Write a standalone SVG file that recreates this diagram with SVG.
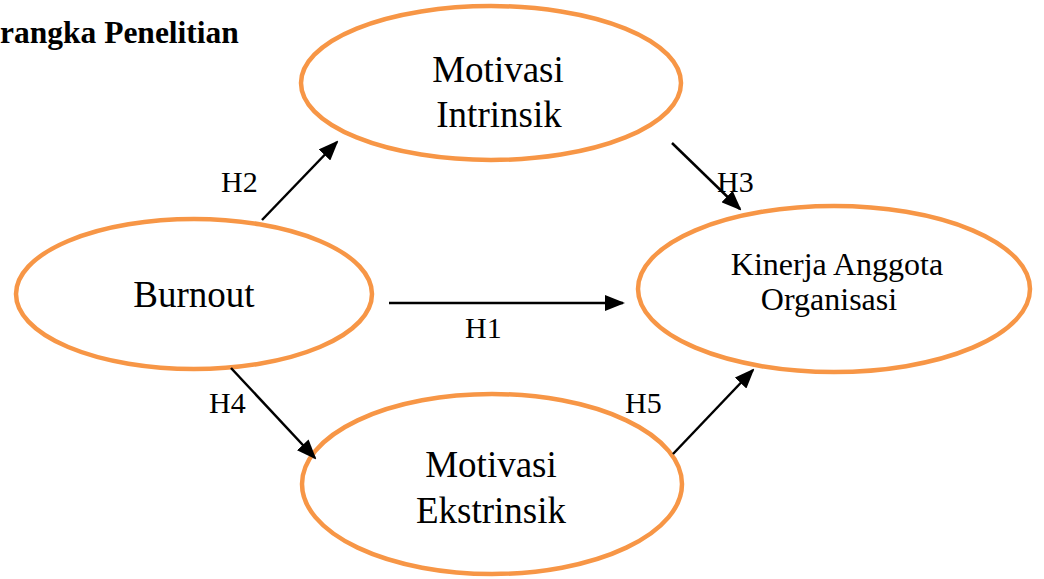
<svg xmlns="http://www.w3.org/2000/svg" width="1044" height="579" viewBox="0 0 1044 579">
<style>
.node{fill:#fff;stroke:#F79646;stroke-width:4.5}
.t{font-family:"Liberation Serif","Times New Roman",serif;fill:#000;text-anchor:middle}
.big{font-size:37px}
.mid{font-size:32px}
.lbl{font-family:"Liberation Serif","Times New Roman",serif;font-size:30px;fill:#000}
.title{font-family:"Liberation Serif","Times New Roman",serif;font-size:31.5px;font-weight:bold;fill:#000}
.edge{stroke:#000;stroke-width:2.5;fill:none;marker-end:url(#ah)}
</style>
<defs>
<marker id="ah" markerUnits="userSpaceOnUse" markerWidth="20" markerHeight="16" viewBox="0 0 20 16" refX="18" refY="8" orient="auto">
<path d="M0,0 L20,8 L0,16 Z" fill="#000"/>
</marker>
</defs>
<rect width="1044" height="579" fill="#fff"/>
<text class="title" x="0" y="43">rangka Penelitian</text>
<g id="n-intrinsik">
<ellipse class="node" cx="491" cy="83" rx="190" ry="77"/>
<text class="t big" x="498" y="82">Motivasi</text>
<text class="t big" x="499" y="127">Intrinsik</text>
</g>
<g id="n-burnout">
<ellipse class="node" cx="194" cy="294" rx="178" ry="75"/>
<text class="t big" x="194" y="307">Burnout</text>
</g>
<g id="n-kinerja">
<ellipse class="node" cx="834" cy="289" rx="196" ry="83"/>
<text class="t mid" x="837" y="275">Kinerja Anggota</text>
<text class="t mid" x="829" y="310">Organisasi</text>
</g>
<g id="n-ekstrinsik">
<ellipse class="node" cx="492" cy="484" rx="190" ry="90"/>
<text class="t big" x="491" y="477">Motivasi</text>
<text class="t big" x="491" y="523">Ekstrinsik</text>
</g>
<g id="connectors">
<line class="edge" x1="262" y1="220" x2="337" y2="142"/>
<line class="edge" x1="672" y1="143" x2="740" y2="209"/>
<line class="edge" x1="389" y1="303" x2="623" y2="303"/>
<line class="edge" x1="231" y1="368" x2="315" y2="458"/>
<line class="edge" x1="673" y1="454" x2="753" y2="370"/>
<text class="lbl" x="221" y="192">H2</text>
<text class="lbl" x="717" y="192">H3</text>
<text class="lbl" x="465" y="338">H1</text>
<text class="lbl" x="209" y="413">H4</text>
<text class="lbl" x="625" y="413">H5</text>
</g>
</svg>
